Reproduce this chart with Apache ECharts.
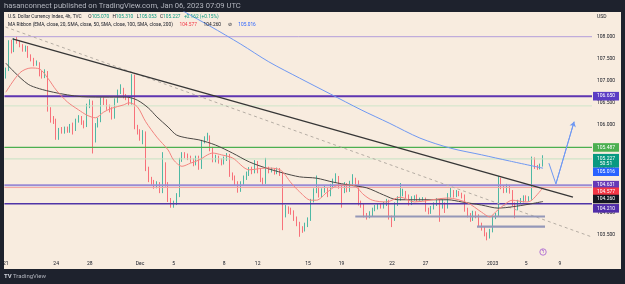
<!DOCTYPE html>
<html>
<head>
<meta charset="utf-8">
<script src="https://cdn.jsdelivr.net/npm/echarts@6/dist/echarts.min.js"></script>
<style>
  html, body { margin: 0; padding: 0; background: #1e222d; }
  #panel { position: absolute; left: 4px; top: 12px; width: 617px; height: 257px; background: #f8ecdf; }
  #chart { position: absolute; left: 0; top: 0; width: 625px; height: 284px; }
</style>
</head>
<body>
<div id="panel"></div>
<div id="chart"></div>
<script>
// DXY 4h candles, Nov 21 2022 -> Jan 6 2023 (open = previous close)
const firstOpen = 107.10;
const closes = [
  107.25, 107.88, 107.68, 107.93, 107.88, 107.80, 107.70, 107.76, 107.55, 107.48,
  107.38, 107.40, 107.15, 107.10, 107.20, 106.35, 106.12, 106.10, 105.70, 105.88,
  105.85, 105.90, 105.86, 105.97, 105.90, 106.10, 106.15, 106.05, 105.98, 106.42,
  106.50, 105.65, 105.99, 106.10, 106.55, 106.52, 106.40, 106.35, 106.18, 106.55,
  106.75, 106.80, 106.64, 106.62, 106.50, 107.12, 105.95, 105.85, 105.70, 105.82,
  105.00, 104.75, 104.70, 104.60, 104.66, 104.50, 105.12, 104.65, 104.30, 104.18,
  104.22, 104.40, 105.20, 105.32, 105.30, 105.25, 105.20, 105.12, 105.25, 105.05,
  105.62, 105.68, 105.72, 105.45, 105.20, 105.25, 105.18, 105.15, 105.22, 105.30,
  104.87, 104.80, 104.68, 104.52, 104.68, 104.80, 104.88, 104.98, 104.93, 105.14,
  104.95, 104.75, 104.70, 105.00, 104.95, 104.98, 104.92, 104.97, 104.88, 103.95,
  104.07, 104.05, 104.02, 103.88, 103.75, 103.63, 103.62, 103.72, 103.85, 104.28,
  104.50, 104.55, 104.40, 104.50, 104.55, 104.42, 104.62, 104.72, 104.80, 104.60,
  104.50, 104.65, 104.52, 104.68, 104.75, 104.70, 104.22, 104.18, 103.95, 103.92,
  103.98, 104.08, 104.12, 104.18, 104.15, 104.20, 104.26, 103.90, 103.85, 104.20,
  104.32, 104.42, 104.45, 104.38, 104.22, 104.32, 104.35, 104.30, 104.32, 104.32,
  104.08, 104.02, 104.12, 104.20, 104.28, 104.15, 104.20, 104.15, 104.40, 104.48,
  104.40, 104.46, 104.42, 104.38, 104.08, 103.95, 103.85, 104.00, 103.93, 103.73,
  103.65, 103.52, 103.45, 103.60, 103.90, 103.95, 104.76, 104.58, 104.50, 104.60,
  104.48, 104.20, 104.10, 104.25, 104.28, 104.35, 104.30, 104.33, 105.22, 105.04,
  105.02, 105.07, 105.227
];
const highs = [
  107.30, 107.92, 107.93, 107.97, 108.00, 107.91, 107.83, 107.80, 107.79, 107.60,
  107.52, 107.46, 107.42, 107.22, 107.26, 107.22, 106.40, 106.20, 106.14, 105.93,
  105.95, 105.96, 105.96, 106.02, 106.05, 106.14, 106.22, 106.20, 106.10, 106.48,
  106.58, 106.55, 106.04, 106.16, 106.62, 106.62, 106.58, 106.46, 106.40, 106.60,
  106.80, 106.92, 106.84, 106.70, 106.66, 107.15, 107.14, 106.00, 105.90, 105.88,
  105.85, 105.05, 104.82, 104.75, 104.72, 104.70, 105.38, 105.15, 104.70, 104.34,
  104.28, 104.45, 105.25, 105.38, 105.38, 105.35, 105.30, 105.24, 105.30, 105.30,
  105.66, 105.74, 105.82, 105.76, 105.50, 105.32, 105.30, 105.24, 105.28, 105.36,
  105.34, 104.92, 104.85, 104.72, 104.72, 104.85, 104.94, 105.04, 105.05, 105.20,
  105.18, 105.00, 104.80, 105.25, 105.05, 105.03, 105.02, 105.03, 105.02, 104.92,
  104.18, 104.15, 104.12, 104.06, 103.92, 103.80, 103.70, 103.78, 103.90, 104.32,
  104.56, 104.85, 104.60, 104.56, 104.62, 104.58, 104.66, 104.78, 104.90, 104.84,
  104.65, 104.70, 104.68, 104.73, 104.88, 104.80, 104.74, 104.28, 104.22, 104.00,
  104.04, 104.12, 104.18, 104.22, 104.22, 104.25, 104.32, 104.30, 103.94, 104.24,
  104.38, 104.68, 104.55, 104.50, 104.42, 104.38, 104.40, 104.42, 104.35, 104.36,
  104.35, 104.12, 104.16, 104.24, 104.34, 104.32, 104.30, 104.24, 104.45, 104.58,
  104.52, 104.52, 104.50, 104.46, 104.42, 104.12, 104.00, 104.05, 104.04, 103.97,
  103.78, 103.68, 103.56, 103.64, 103.94, 104.00, 104.84, 104.80, 104.62, 104.66,
  104.64, 104.52, 104.24, 104.30, 104.34, 104.40, 104.40, 104.38, 105.28, 105.26,
  105.09, 105.12, 105.31
];
const lows = [
  107.05, 107.22, 107.62, 107.65, 107.84, 107.76, 107.66, 107.66, 107.52, 107.44,
  107.33, 107.34, 107.10, 107.05, 107.06, 106.30, 106.05, 106.02, 105.66, 105.66,
  105.80, 105.80, 105.82, 105.82, 105.78, 105.86, 106.05, 106.00, 105.92, 105.95,
  106.38, 105.35, 105.60, 105.94, 106.06, 106.45, 106.34, 106.28, 106.12, 106.14,
  106.50, 106.70, 106.60, 106.56, 106.44, 106.46, 105.90, 105.78, 105.64, 105.56,
  104.95, 104.70, 104.64, 104.55, 104.56, 104.45, 104.45, 104.60, 104.25, 104.12,
  104.12, 104.18, 104.36, 105.16, 105.24, 105.20, 105.14, 105.06, 105.08, 104.98,
  105.00, 105.58, 105.64, 105.40, 105.15, 105.15, 105.12, 105.08, 105.10, 105.18,
  104.82, 104.74, 104.62, 104.46, 104.48, 104.64, 104.75, 104.84, 104.88, 104.90,
  104.90, 104.70, 104.64, 104.66, 104.90, 104.92, 104.87, 104.88, 104.84, 103.61,
  103.90, 103.98, 103.96, 103.82, 103.70, 103.46, 103.55, 103.58, 103.68, 103.82,
  104.24, 104.45, 104.35, 104.36, 104.46, 104.36, 104.38, 104.58, 104.68, 104.55,
  104.12, 104.45, 104.47, 104.48, 104.62, 104.64, 104.17, 104.12, 103.90, 103.85,
  103.88, 103.93, 104.04, 104.08, 104.10, 104.10, 104.16, 103.85, 103.68, 103.82,
  104.16, 104.28, 104.38, 104.33, 104.17, 104.18, 104.28, 104.26, 104.28, 104.28,
  104.03, 103.97, 103.98, 104.08, 104.16, 103.80, 104.10, 104.00, 104.10, 104.35,
  104.35, 104.36, 104.38, 104.33, 104.03, 103.90, 103.80, 103.82, 103.88, 103.68,
  103.60, 103.47, 103.38, 103.42, 103.56, 103.86, 103.92, 104.54, 104.45, 104.46,
  104.44, 104.15, 103.88, 104.06, 104.20, 104.24, 104.26, 104.27, 104.30, 105.00,
  104.98, 104.99, 105.053
];

// MA ribbon: [bar index, price]
const ema20 = [[0,106.74],[5,107.18],[9,107.29],[12,107.27],[15,107.06],[18,106.79],[22,106.52],[26,106.34],
  [29,106.22],[32,106.16],[35,106.29],[38,106.38],[42,106.45],[44,106.50],[47,106.41],[50,106.07],[54,105.72],
  [58,105.43],[60,105.20],[63,105.06],[66,105.13],[69,105.20],[74,105.36],[77,105.32],[81,105.25],[87,104.98],
  [93,105.02],[98,104.98],[102,104.68],[105,104.48],[109,104.29],[111,104.29],[115,104.48],[119,104.63],
  [124,104.63],[128,104.41],[131,104.29],[136,104.25],[141,104.36],[146,104.25],[158,104.34],[165,104.23],
  [170,104.02],[173,103.91],[175,104.02],[178,104.18],[181,104.29],[186,104.25],[188,104.29],[192,104.577]];
const sma50 = [[0,107.40],[3,107.20],[8,106.92],[12,106.82],[17,106.74],[22,106.68],[27,106.64],[37,106.63],
  [43,106.63],[47,106.56],[51,106.38],[54,106.18],[58,105.95],[61,105.77],[65,105.70],[69,105.66],[75,105.54],
  [81,105.36],[87,105.16],[93,105.02],[99,104.91],[105,104.82],[111,104.79],[117,104.70],[123,104.63],
  [129,104.57],[135,104.41],[140,104.30],[152,104.30],[158,104.30],[163,104.25],[170,104.18],[176,104.11],
  [181,104.14],[187,104.20],[192,104.26]];
const sma200 = [[58,108.80],[64,108.56],[73,108.24],[84,107.83],[94,107.43],[105,107.06],[116,106.70],
  [127,106.34],[137,106.04],[148,105.70],[159,105.47],[170,105.32],[180,105.18],[192,105.016]];

// drawings
const hLevels = [108.0, 106.65, 106.43, 105.487, 105.227, 104.631, 104.577, 104.21];
const trendSolid = [[2.4,107.95],[202.7,104.36]];
const trendDashed = [[-0.1,108.22],[209.5,103.455]];
const zoneUpper = [[124.9,103.92],[192.7,103.92]];
const zoneLower = [[168.4,103.69],[192.7,103.69]];
const projection = [[194.1,105.13],[196.6,104.66],[203.1,106.07]];

// axes
const tickIdx = [0, 18, 30, 48, 60, 78, 90, 108, 120, 138, 150, 174, 186, 198];
const tickText = ['21', '24', '28', 'Dec', '5', '8', '12', '15', '19', '22', '27', '2023', '5', '9'];
const priceTicks = [103.5, 104, 104.5, 105, 105.5, 106, 106.5, 107, 107.5, 108];

// legend / scale labels
const legendOHLC = ['105.070', '105.310', '105.053', '105.227'];
const legendChange = '+0.162 (+0.15%)';
const maValues = ['104.577', '104.260', '105.016'];
const scaleLabels = [106.65, 105.487, 105.016, 104.631, 104.577, 104.26, 104.21];
const lastPrice = 105.227;
const countdown = '50:51';

const N = 210;
const FONT = 'Roboto, "Liberation Sans", sans-serif';

const categories = Array.from({ length: N }, (_, i) => String(i));
const candles = closes.map((c, i) => [i === 0 ? firstOpen : closes[i - 1], c, lows[i], highs[i]]);

function lineSeries(data, color, width, extra) {
  return Object.assign({
    type: 'line', xAxisIndex: 1, yAxisIndex: 0, data: data,
    symbol: 'none', silent: true, z: 3,
    lineStyle: { color: color, width: width }
  }, extra || {});
}

const levelStyles = [
  ['#b39ddb', 1], ['#5e35b1', 2], ['#cfe5c9', 1], ['#4caf50', 1.2],
  ['#c6e2c2', 1], ['#9a8bd4', 2], ['#f5a5a0', 1], ['#5035a8', 1.4]
];

const chart = echarts.init(document.getElementById('chart'));

chart.setOption({
  animation: false,
  backgroundColor: 'transparent',
  grid: { left: 4, right: 33, top: 12, bottom: 26 },
  xAxis: [{
    type: 'category', data: categories, boundaryGap: true,
    axisLine: { show: false }, axisTick: { show: false }, splitLine: { show: false },
    axisLabel: {
      interval: i => tickIdx.indexOf(i) >= 0,
      formatter: (v, i) => { const k = tickIdx.indexOf(i); return k >= 0 ? tickText[k] : ''; },
      fontSize: 5, color: '#131722', margin: 3, fontFamily: FONT
    }
  }, {
    type: 'value', min: -0.5, max: N - 0.5, show: false
  }],
  yAxis: {
    type: 'value', position: 'right', min: 102.9785, max: 108.5605, scale: true,
    splitLine: { show: false }, axisLine: { show: false }, axisTick: { show: false },
    axisLabel: {
      customValues: priceTicks, formatter: v => v.toFixed(3),
      fontSize: 5, color: '#131722', margin: 5, fontFamily: FONT
    }
  },
  series: [
    {
      type: 'candlestick', xAxisIndex: 0, yAxisIndex: 0, data: candles,
      barWidth: 1.3, silent: true, z: 2,
      itemStyle: { color: '#22ab94', color0: '#f7525f', borderColor: '#22ab94', borderColor0: '#f7525f', borderWidth: 0.8 }
    },
    ...hLevels.map((v, k) => lineSeries([[-0.5, v], [N - 0.5, v]], levelStyles[k][0], levelStyles[k][1])),
    lineSeries(trendDashed, '#b5ada4', 1, { lineStyle: { color: '#b5ada4', width: 1, type: [3, 3] } }),
    lineSeries(zoneUpper, '#9497b8', 2.2),
    lineSeries(zoneLower, '#9497b8', 2.2),
    lineSeries(sma200, '#6f98f2', 1, { smooth: 0.3 }),
    lineSeries(sma50, '#4a4744', 1, { smooth: 0.3 }),
    lineSeries(ema20, '#f2837f', 1, { smooth: 0.3 }),
    lineSeries(trendSolid, '#363636', 1.3),
    lineSeries(projection, '#6f98f2', 1, {
      markLine: {
        silent: true, symbol: ['none', 'arrow'], symbolSize: 5, label: { show: false },
        lineStyle: { color: '#6f98f2', width: 1, type: 'solid' },
        data: [[{ coord: projection[1] }, { coord: projection[2] }]]
      }
    })
  ]
});

// overlay texts and price-scale labels, placed through the chart's own scales
const yPix = v => chart.convertToPixel({ yAxisIndex: 0 }, v);
const xPix = i => chart.convertToPixel({ xAxisIndex: 1 }, i);

const boxStyle = {
  106.65: ['#5b3cc4', 0], 105.487: ['#4caf50', 0], 105.016: ['#2962ff', 3.5],
  104.631: ['#673ab7', 0], 104.577: ['#f23645', 4.2], 104.26: ['#131722', -2.5], 104.21: ['#512da8', 4.6]
};

const g = [];
g.push({ type: 'text', x: 4, y: 6.5, z: 100, style: {
  text: 'hasanconnect published on TradingView.com, Jan 06, 2023 07:09 UTC',
  fill: '#b2b5be', fontSize: 7.6, fontFamily: FONT, verticalAlign: 'middle' } });

const rich = {
  t: { fill: '#131722', color: '#131722', fontSize: 4.8, fontFamily: FONT },
  g: { fill: '#089981', color: '#089981', fontSize: 4.8, fontFamily: FONT },
  r: { fill: '#f23645', color: '#f23645', fontSize: 4.8, fontFamily: FONT },
  b: { fill: '#2962ff', color: '#2962ff', fontSize: 4.8, fontFamily: FONT }
};
g.push({ type: 'text', x: 8, y: 17.3, z: 100, style: {
  text: '{t|U.S. Dollar Currency Index, 4h, TVC}  {t|O}{g|' + legendOHLC[0] + '} {t|H}{g|' + legendOHLC[1] +
        '} {t|L}{g|' + legendOHLC[2] + '} {t|C}{g|' + legendOHLC[3] + '} {g|' + legendChange + '}',
  rich: rich, verticalAlign: 'middle' } });
g.push({ type: 'text', x: 8, y: 24.5, z: 100, style: {
  text: '{t|MA Ribbon (EMA, close, 20, SMA, close, 50, SMA, close, 100, SMA, close, 200)}  {r|' + maValues[0] +
        '}  {t|' + maValues[1] + '}  {t|\u2298}  {b|' + maValues[2] + '}',
  rich: rich, verticalAlign: 'middle' } });
g.push({ type: 'text', x: 597, y: 17, z: 100, style: { text: 'USD', fill: '#131722', fontSize: 5, fontFamily: FONT, verticalAlign: 'middle' } });

scaleLabels.forEach(v => {
  const s = boxStyle[v];
  const y = yPix(v) + s[1];
  g.push({ type: 'rect', z: 100, shape: { x: 593, y: y - 4.3, width: 26, height: 8.6 }, style: { fill: s[0] } });
  g.push({ type: 'text', z: 101, x: 606, y: y, style: { text: v.toFixed(3), fill: '#ffffff', fontSize: 5, fontFamily: FONT, align: 'center', verticalAlign: 'middle' } });
});
const yl = yPix(lastPrice);
g.push({ type: 'rect', z: 100, shape: { x: 593, y: yl - 5, width: 26, height: 13.5 }, style: { fill: '#089981' } });
g.push({ type: 'text', z: 101, x: 606, y: yl - 0.5, style: { text: lastPrice.toFixed(3), fill: '#ffffff', fontSize: 5, fontFamily: FONT, align: 'center', verticalAlign: 'middle' } });
g.push({ type: 'text', z: 101, x: 606, y: yl + 5, style: { text: countdown, fill: '#ffffff', fontSize: 5, fontFamily: FONT, align: 'center', verticalAlign: 'middle' } });

// event marker under the last bar
const ex = xPix(closes.length - 1);
g.push({ type: 'circle', z: 100, shape: { cx: ex, cy: 252, r: 3.2 }, style: { fill: '#f8ecdf', stroke: '#a45bd0', lineWidth: 0.8 } });
g.push({ type: 'text', z: 101, x: ex, y: 252, style: { text: '\u03df', fill: '#a45bd0', fontSize: 4.5, align: 'center', verticalAlign: 'middle' } });

// footer logo
g.push({ type: 'text', x: 4, y: 276.5, z: 100, style: { text: 'TV', fill: '#d1d4dc', fontSize: 6, fontWeight: 'bold', fontFamily: FONT, verticalAlign: 'middle' } });
g.push({ type: 'text', x: 13, y: 276.5, z: 100, style: { text: 'TradingView', fill: '#b2b5be', fontSize: 6, fontFamily: FONT, verticalAlign: 'middle' } });

chart.setOption({ graphic: g });
</script>
</body>
</html>
